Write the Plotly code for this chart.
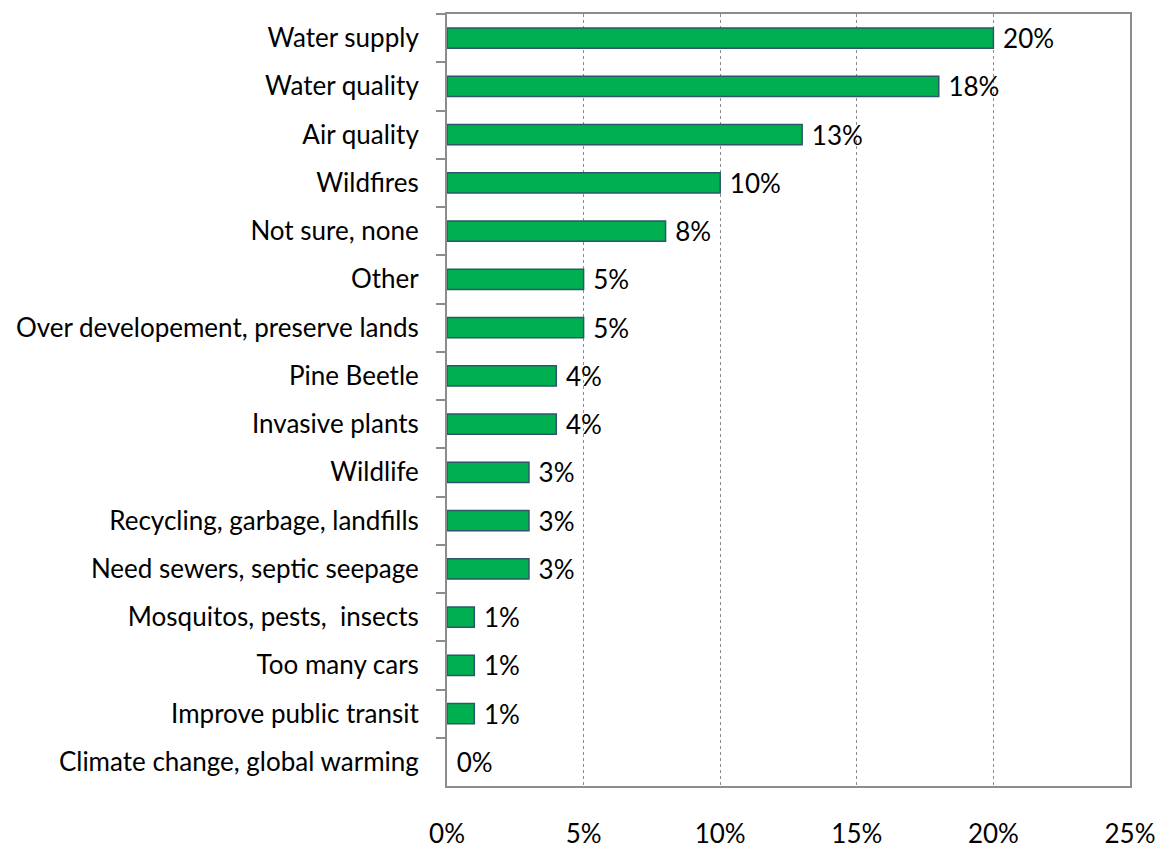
import plotly.graph_objects as go

categories = ["Water supply", "Water quality", "Air quality", "Wildfires", "Not sure, none",
              "Other", "Over developement, preserve lands", "Pine Beetle", "Invasive plants",
              "Wildlife", "Recycling, garbage, landfills", "Need sewers, septic seepage",
              "Mosquitos, pests,  insects", "Too many cars", "Improve public transit",
              "Climate change, global warming"]
values = [0.20, 0.18, 0.13, 0.10, 0.08, 0.05, 0.05, 0.04, 0.04, 0.03, 0.03, 0.03, 0.01, 0.01, 0.01, 0.00]
labels = [f"{round(v*100)}%" for v in values]
x_ticks = [0, 0.05, 0.10, 0.15, 0.20, 0.25]
x_tick_labels = ["0%", "5%", "10%", "15%", "20%", "25%"]

FONT = "Lato"
FS = 26

fig = go.Figure(go.Bar(
    y=categories, x=values, orientation="h",
    marker=dict(color="#00B050",
                line=dict(color="#2B5868", width=[1.5 if v > 0 else 0 for v in values])),
    width=0.42,
    text=labels, texttemplate=" %{text}", textposition="outside", cliponaxis=False,
    constraintext="none",
    textfont=dict(family=FONT, size=FS, color="#000000"),
))

fig.update_layout(
    width=1169, height=849,
    margin=dict(l=439, r=47, t=6, b=71, autoexpand=False),
    plot_bgcolor="white", paper_bgcolor="white",
    showlegend=False,
    font=dict(family=FONT, size=FS, color="#000000"),
)
fig.update_xaxes(
    range=[0, 0.25], tickvals=x_ticks, ticktext=x_tick_labels,
    showgrid=True, gridcolor="#8C8C8C", griddash="3px,3px", gridwidth=1,
    showline=True, linecolor="#8C8C8C", linewidth=2, mirror=True,
    ticks="", ticklabelstandoff=24, zeroline=False,
    tickfont=dict(family=FONT, size=FS, color="#000000"),
)
fig.update_yaxes(
    categoryorder="array", categoryarray=categories, autorange="reversed",
    showline=True, linecolor="#8C8C8C", linewidth=2, mirror=True,
    ticks="outside", tickson="boundaries", ticklen=9, tickcolor="#8C8C8C", tickwidth=2,
    showgrid=False, ticklabelstandoff=21,
    tickfont=dict(family=FONT, size=FS, color="#000000"),
)

fig.write_html("out.html")
